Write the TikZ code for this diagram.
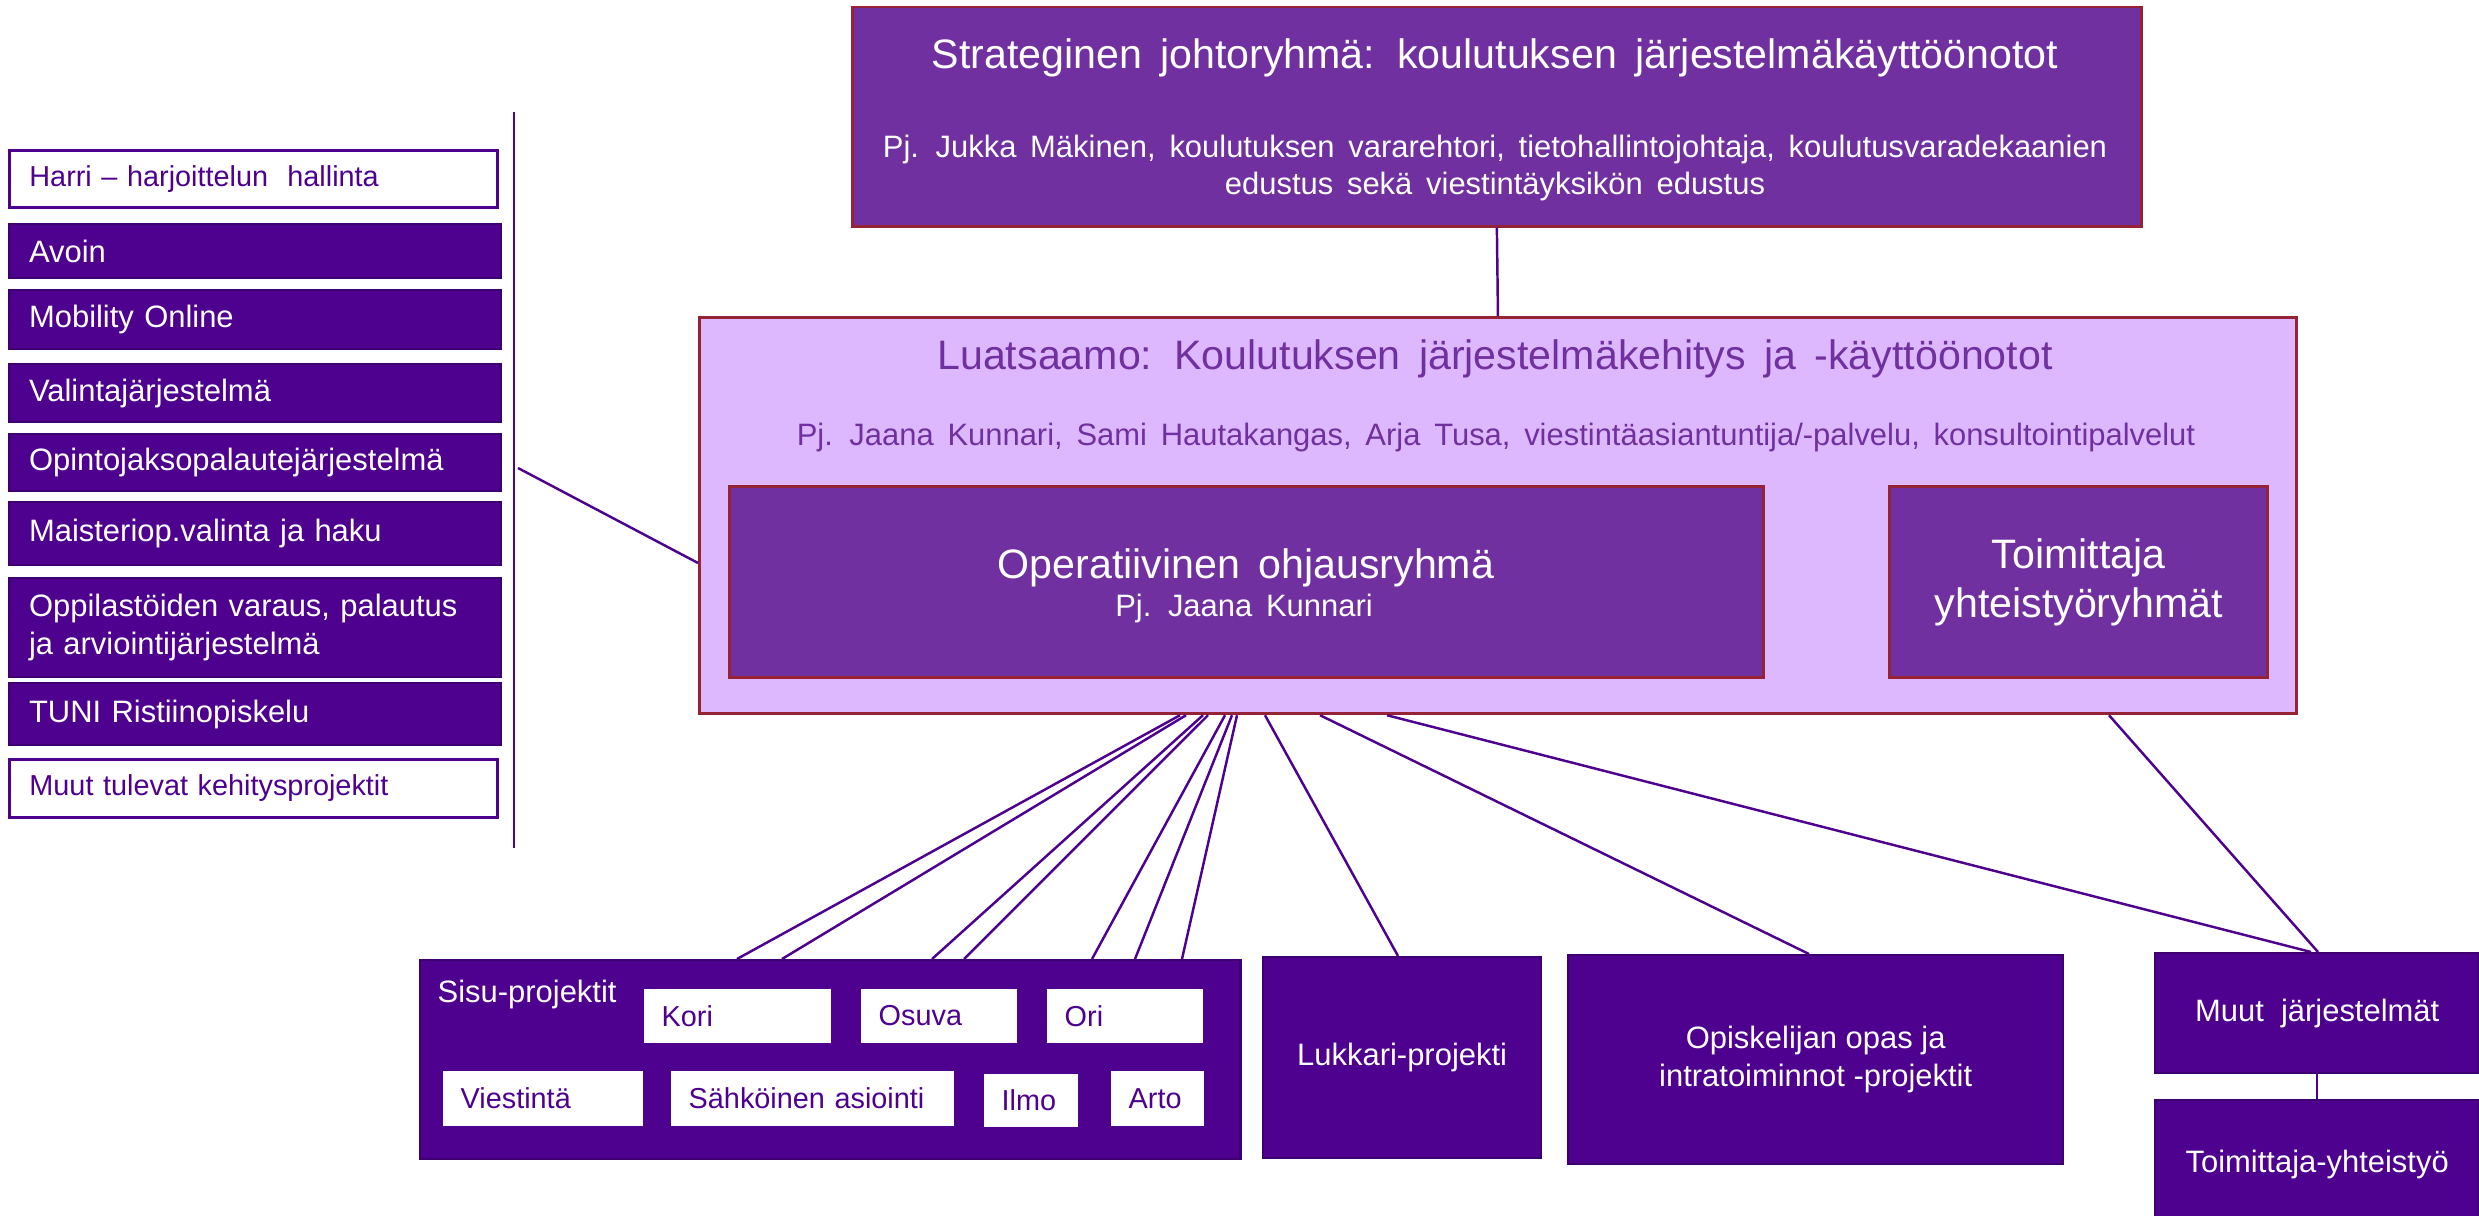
\documentclass[tikz,border=0pt]{standalone}
\usepackage{fontspec}
\setmainfont{Liberation Sans}
\newfontfamily\widefont[WordSpace=1.6]{Liberation Sans}
\usetikzlibrary{calc}

\definecolor{mauve}{HTML}{7030A0}
\definecolor{deeppurple}{HTML}{4E008E}
\definecolor{edgepurple}{HTML}{3E0070}
\definecolor{lilac}{HTML}{DDB8FF}
\definecolor{wine}{HTML}{952335}

\newcommand{\bigfont}{\fontsize{11.7}{14}\selectfont}
\newcommand{\midfont}{\fontsize{8.8}{10.8}\selectfont}
\newcommand{\smallfont}{\fontsize{8.2}{10}\selectfont}
\newcommand{\headfont}{\widefont\fontsize{11.7}{14}\selectfont}
\newcommand{\notefont}{\widefont\fontsize{8.8}{10.8}\selectfont}

\tikzset{
  group/.style={draw=wine, line width=0.85pt, fill=mauve, anchor=north west, inner sep=0pt},
  dark/.style={draw=edgepurple, line width=0.6pt, fill=deeppurple, text=white, anchor=north west, inner sep=0pt, align=center, font=\midfont},
  menu/.style={dark, text width=4.52cm, inner xsep=0.2cm, align=left},
  menuwhite/.style={menu, fill=white, draw=deeppurple, text=deeppurple, line width=0.8pt, text width=4.48cm, font=\smallfont},
  tag/.style={fill=white, text=deeppurple, anchor=north west, inner ysep=0pt, inner xsep=0.18cm, align=left, font=\smallfont},
  link/.style={draw=deeppurple, line width=0.7pt}
}

\begin{document}
\begin{tikzpicture}[x=0.01cm, y=-0.01cm]
  \useasboundingbox (0,0) rectangle (2479,1215);
  \clip (0,0) rectangle (2479,1215);

  % top groups
  \node[group, minimum width=12.88cm, minimum height=2.19cm] (strat) at (851,5.5) {};
  \node[text=white, font=\headfont] (strattitle) at (1495,58) {Strateginen johtoryhmä: koulutuksen järjestelmäkäyttöönotot};
  \node[text=white, font=\notefont, align=center] (stratsub) at (1495,168)
    {Pj. Jukka Mäkinen, koulutuksen vararehtori, tietohallintojohtaja, koulutusvaradekaanien\\ edustus sekä viestintäyksikön edustus};

  \node[group, fill=lilac, minimum width=15.96cm, minimum height=3.96cm] (luo) at (698,316) {};
  \node[text=mauve, font=\headfont] (luotitle) at (1495,359) {Luatsaamo: Koulutuksen järjestelmäkehitys ja -käyttöönotot};
  \node[text=mauve, font=\notefont] (luosub) at (1496,437)
    {Pj. Jaana Kunnari, Sami Hautakangas, Arja Tusa, viestintäasiantuntija/-palvelu, konsultointipalvelut};

  \node[group, minimum width=10.33cm, minimum height=1.91cm] (oper) at (728,485) {};
  \node[text=white, font=\headfont] (opertitle) at (1246,568) {Operatiivinen ohjausryhmä};
  \node[text=white, font=\notefont] (opersub) at (1244,608) {Pj. Jaana Kunnari};

  \node[group, minimum width=3.78cm, minimum height=1.91cm, text=white, font=\bigfont, align=center] (toim) at (1888,485)
    {Toimittaja\\ yhteistyöryhmät};

  \draw[link] (strat.south) -- (luo.north);

  % left list
  \node[menuwhite, minimum height=0.57cm] (harri) at (8,149) {Harri – harjoittelun\ \ hallinta};
  \node[menu, minimum height=0.54cm] (avoin) at (8,223) {Avoin};
  \node[menu, minimum height=0.59cm] (mobility) at (8,289) {Mobility Online};
  \node[menu, minimum height=0.58cm] (valinta) at (8,363) {Valintajärjestelmä};
  \node[menu, minimum height=0.57cm] (palaute) at (8,433) {Opintojaksopalautejärjestelmä};
  \node[menu, minimum height=0.63cm] (maisteri) at (8,501) {Maisteriop.valinta ja haku};
  \node[menu, minimum height=0.99cm] (oppilas) at (8,577) {Oppilastöiden varaus, palautus\\ ja arviointijärjestelmä};
  \node[menu, minimum height=0.62cm] (tuni) at (8,682) {TUNI Ristiinopiskelu};
  \node[menuwhite, minimum height=0.58cm] (tulevat) at (8,758) {Muut tulevat kehitysprojektit};

  \coordinate (bartop) at (514,112);
  \coordinate (barbot) at (514,848);
  \coordinate (barmid) at (518,468);
  \draw[link] (bartop) -- (barbot);
  \draw[link] (barmid) -- ($(luo.north west)+(0,247)$);

  % bottom projects
  \node[dark, minimum width=8.20cm, minimum height=1.99cm] (sisu) at (419,959) {};
  \node[anchor=west, inner sep=0pt, text=white, font=\midfont] (sisulabel) at (437,994) {Sisu-projektit};
  \foreach \nm/\x/\y/\tw/\h/\txt in {kori/643/988/1.51/0.54/Kori, osuva/860/988/1.20/0.54/Osuva,
      ori/1046/988/1.20/0.54/Ori, viestinta/442/1070/1.64/0.55/Viestintä,
      asiointi/670/1070/2.47/0.55/Sähköinen asiointi, ilmo/983/1073/0.58/0.53/Ilmo,
      arto/1110/1070/0.57/0.55/Arto}
    \node[tag, text width=\tw cm, minimum height=\h cm] (\nm) at (\x,\y) {\txt};

  \node[dark, minimum width=2.78cm, minimum height=2.01cm] (lukkari) at (1262,956) {Lukkari-projekti};
  \node[dark, minimum width=4.95cm, minimum height=2.09cm] (opas) at (1567,954) {Opiskelijan opas ja\\ intratoiminnot -projektit};
  \node[dark, minimum width=3.24cm, minimum height=1.20cm] (muutj) at (2154,952) {Muut\ \ järjestelmät};
  \node[dark, minimum width=3.24cm, minimum height=1.28cm] (toimyht) at (2154,1099) {Toimittaja-yhteistyö};
  \draw[link] (muutj.south) -- (toimyht.north);

  % links from Luatsaamo
  \foreach \a/\b in {482/318, 488/363, 505/513, 510/545, 527/673, 534/716, 539/763}
    \draw[link] ($(luo.south west)+(\a,0)$) -- ($(sisu.north west)+(\b,0)$);
  \draw[link] ($(luo.south west)+(567,0)$) -- ($(lukkari.north west)+(136,0)$);
  \draw[link] ($(luo.south west)+(622,0)$) -- ($(opas.north west)+(242,0)$);
  \draw[link] ($(luo.south west)+(689,0)$) -- ($(muutj.north west)+(157,0)$);
  \draw[link] ($(luo.south west)+(1411,0)$) -- ($(muutj.north west)+(164,0)$);
\end{tikzpicture}
\end{document}
